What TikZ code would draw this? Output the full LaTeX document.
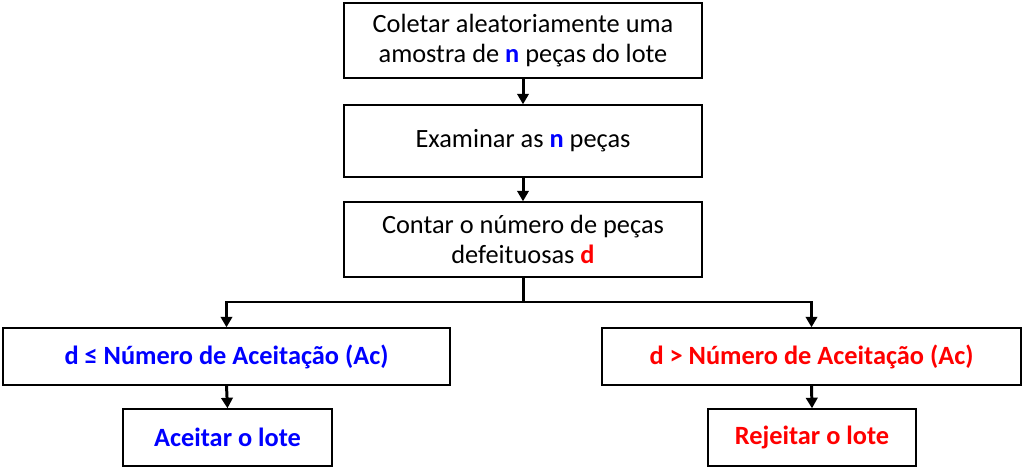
\documentclass[tikz,border=0pt]{standalone}
\usepackage{fontspec}
\setmainfont{Carlito}
\usetikzlibrary{arrows.meta}
\definecolor{azul}{RGB}{0,0,255}
\definecolor{verm}{RGB}{255,0,0}
\tikzset{
  caixa/.style={draw, line width=0.8pt, align=center, inner sep=0pt,
    font=\fontsize{15}{17}\selectfont},
  seta/.style={line width=1.7pt, -{Triangle[width=6.5pt,length=6pt]}}
}
\begin{document}
\begin{tikzpicture}[x=0.02cm,y=-0.02cm]
\useasboundingbox (0,0) rectangle (1024,470);
\node[caixa, minimum width=7.16cm, minimum height=1.5cm] (b1) at (523,40.5)
  {Coletar aleatoriamente uma\\amostra de \textcolor{azul}{\textbf{n}} peças do lote};
\node[caixa, minimum width=7.16cm, minimum height=1.44cm] (b2) at (523,141)
  {Examinar as \textcolor{azul}{\textbf{n}} peças};
\node[caixa, minimum width=7.16cm, minimum height=1.5cm] (b3) at (523,239.5)
  {Contar o número de peças\\defeituosas \textcolor{verm}{\textbf{d}}};
\node[caixa, minimum width=8.94cm, minimum height=1.14cm, text=azul, font=\fontsize{15}{17}\selectfont\bfseries] (b4) at (226.5,356.5)
  {d ≤ Número de Aceitação (Ac)};
\node[caixa, minimum width=8.38cm, minimum height=1.14cm, text=verm, font=\fontsize{15}{17}\selectfont\bfseries] (b5) at (811.5,356.5)
  {d > Número de Aceitação (Ac)};
\node[caixa, minimum width=4.18cm, minimum height=1.14cm, text=azul, font=\fontsize{15}{17}\selectfont\bfseries] (b6) at (227.5,437.5)
  {Aceitar o lote};
\node[caixa, minimum width=4.16cm, minimum height=1.14cm, text=verm, font=\fontsize{15}{17}\selectfont\bfseries] (b7) at (812,437.5)
  {Rejeitar o lote};
\coordinate (split) at (523,302);
\draw[seta] (b1) -- (b2);
\draw[seta] (b2) -- (b3);
\draw[seta] (b3.south) -- (split) -| (b4.north);
\draw[seta] (split) -| (b5.north);
\draw[seta] (b4.south) -- (b6.north);
\draw[seta] (b5.south) -- (b7.north);
\end{tikzpicture}
\end{document}
